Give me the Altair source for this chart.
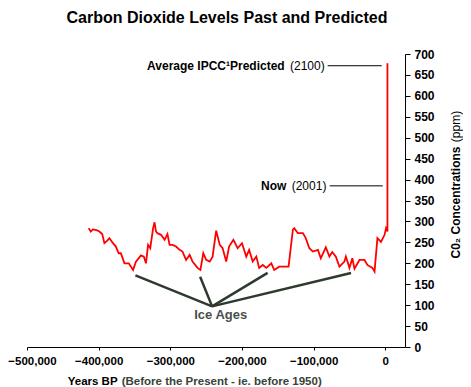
import altair as alt
import pandas as pd

FONT = "Liberation Sans"

# CO2 record (years BP, ppm)
years = [-414000, -411000, -408000, -403000, -399000, -395000, -392000, -388000, -385000, -380000,
         -376000, -372000, -369000, -364000, -358000, -352000, -348000, -341000, -337000, -334000,
         -331000, -328000, -324000, -322000, -320000, -318000, -313000, -308000, -304000, -301000,
         -297000, -292000, -287000, -283000, -278000, -273000, -269000, -262000, -258000, -254000,
         -250000, -245000, -241000, -236000, -231000, -227000, -222000, -218000, -212000, -206000,
         -200000, -194000, -190000, -185000, -180000, -176000, -171000, -166000, -159000, -155000,
         -148000, -141000, -135000, -129000, -127000, -122000, -115000, -111000, -106000, -101000,
         -94000, -90000, -83000, -78000, -74000, -69000, -64000, -57000, -55000, -50000,
         -46000, -43000, -36000, -29000, -25000, -18000, -15000, -11000, -6000, -1000,
         1000, 3000, 3000]
co2 = [284, 276, 281, 279, 276, 270, 248, 254, 260, 248,
       240, 224, 224, 200, 200, 184, 204, 219, 216, 200,
       244, 236, 284, 298, 276, 272, 268, 256, 270, 244,
       244, 240, 232, 228, 208, 220, 204, 189, 184, 224,
       208, 204, 216, 278, 244, 236, 204, 240, 256, 236,
       248, 216, 232, 204, 216, 189, 196, 189, 200, 184,
       192, 192, 192, 280, 284, 272, 272, 260, 236, 228,
       232, 212, 238, 216, 227, 216, 192, 204, 216, 189,
       212, 187, 208, 208, 196, 189, 180, 260, 251, 268,
       284, 276, 678]

x_ticks = [-500000, -400000, -300000, -200000, -100000, 0]
y_ticks = list(range(0, 701, 50))

# annotations
lead_texts_bold = ["Average IPCC¹Predicted", "Now"]
lead_texts_norm = ["(2100)", "(2001)"]
lead_text_year = [-84600, -82200]
lead_co2 = [672, 385]
lead_start = [-80400, -77600]
lead_end = [-5000, -3600]

ice_year = [-348700, -258400, -164200, -47800]
ice_co2 = [171, 168, 177, 177]
ice_hub_year = -241700
ice_hub_co2 = 97
ice_label = "Ice Ages"
ice_label_year = -229700
ice_label_co2 = 77

df = pd.DataFrame({"year": years, "co2": co2, "i": list(range(len(years)))})
lead_df = pd.DataFrame({"year": lead_start, "year2": lead_end, "co2": lead_co2,
                        "bold": lead_texts_bold, "norm": lead_texts_norm,
                        "ty": lead_text_year})
ice_df = pd.DataFrame({"year": ice_year, "co2": ice_co2,
                       "year2": [ice_hub_year] * 4, "co2_2": [ice_hub_co2] * 4})
ice_lab_df = pd.DataFrame({"year": [ice_label_year], "co2": [ice_label_co2], "t": [ice_label]})

x_scale = alt.Scale(domain=[-500000, 27500], nice=False, zero=False)
y_scale = alt.Scale(domain=[0, 700], nice=False)

x_axis = alt.Axis(values=x_ticks, labelExpr="format(datum.value, ',')", title=None, grid=False,
                  tickSize=3, tickColor="black", domainColor="black",
                  labelFont=FONT, labelFontSize=11.5, labelFontWeight="bold",
                  labelColor="black", labelPadding=5, labelFlush=False,
                  labelOffset={"condition": {"test": "datum.value === -500000", "value": 5},
                               "value": 0})
y_axis = alt.Axis(orient="right", values=y_ticks, grid=False,
                  tickSize=5, tickColor="black", domainColor="black",
                  labelFont=FONT, labelFontSize=12, labelFontWeight="bold",
                  labelColor="black", labelPadding=4,
                  title="C0₂ Concentrations", titleFont=FONT, titleFontSize=12,
                  titleFontWeight="bold", titleColor="black", titleAngle=270,
                  titleAlign="center", titleBaseline="middle",
                  titleX=50, titleY=148)


def X(field="year"):
    return alt.X(f"{field}:Q", scale=x_scale, axis=x_axis)


def Y(field="co2"):
    return alt.Y(f"{field}:Q", scale=y_scale, axis=y_axis)


line = alt.Chart(df).mark_line(color="#ff0000", strokeWidth=1.8).encode(
    x=X(), y=Y(), order=alt.Order("i:Q"))

lead_rules = alt.Chart(lead_df).mark_rule(color="black", strokeWidth=1).encode(
    x=X(), x2="year2:Q", y=Y())

lead_norm = alt.Chart(lead_df).mark_text(
    font=FONT, fontSize=12, align="right", baseline="middle", color="black").encode(
    x=alt.X("ty:Q", scale=x_scale, axis=x_axis), y=Y(), text="norm:N")

lead_bold = alt.Chart(lead_df).mark_text(
    font=FONT, fontSize=12, fontWeight="bold", align="right", baseline="middle",
    color="black", dx=-40).encode(
    x=alt.X("ty:Q", scale=x_scale, axis=x_axis), y=Y(), text="bold:N")

ice_rules = alt.Chart(ice_df).mark_rule(color="#2d3a2d", strokeWidth=2.5).encode(
    x=X(), y=Y(), x2="year2:Q", y2="co2_2:Q")

ice_text = alt.Chart(ice_lab_df).mark_text(
    font=FONT, fontSize=13, fontWeight="bold", color="#4a4f4a",
    align="center", baseline="middle").encode(x=X(), y=Y(), text="t:N")

ppm_text = alt.Chart(pd.DataFrame({"t": ["(ppm)"]})).mark_text(
    font=FONT, fontSize=12, angle=270, align="center", baseline="middle",
    color="black").encode(x=alt.value(428.5), y=alt.value(72.5), text="t:N")

xt1 = alt.Chart(pd.DataFrame({"t": ["Years BP"]})).mark_text(
    font=FONT, fontSize=11.5, fontWeight="bold", align="left", baseline="middle",
    color="black").encode(x=alt.value(40.7), y=alt.value(327.7), text="t:N")

xt2 = alt.Chart(pd.DataFrame({"t": ["(Before the Present - ie. before 1950)"]})).mark_text(
    font=FONT, fontSize=11.5, fontWeight="bold", align="left", baseline="middle",
    color="#36433a").encode(x=alt.value(94.7), y=alt.value(327.7), text="t:N")

chart = alt.layer(line, lead_rules, lead_norm, lead_bold, ice_rules, ice_text,
                  ppm_text, xt1, xt2).properties(
    width=378, height=293,
    autosize="none",
    padding={"left": 19, "top": 46, "right": 58, "bottom": 40},
    title=alt.TitleParams("Carbon Dioxide Levels Past and Predicted", font=FONT,
                          fontSize=16, fontWeight="bold", color="black",
                          anchor="middle", offset=22, dx=11),
    background="white",
).configure_view(stroke=None)

chart.save("out.html", embed_options={"renderer": "svg", "actions": False})
